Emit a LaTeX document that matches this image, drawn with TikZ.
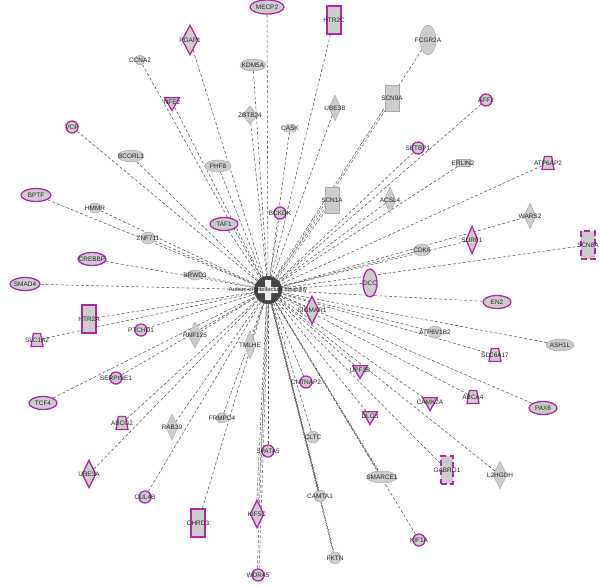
\documentclass[tikz,border=0pt]{standalone}
\usepackage{fontspec}
\setmainfont{Liberation Sans}
\usepackage{tikz}
\usetikzlibrary{shapes.geometric, arrows.meta, positioning, backgrounds, decorations.pathmorphing}
\definecolor{hitpurple}{RGB}{176,40,168}
\definecolor{genegray}{RGB}{204,204,204}
\definecolor{genedraw}{RGB}{170,170,170}
\definecolor{linkgray}{RGB}{95,95,95}

\begin{document}
\begin{tikzpicture}[
    x=0.03cm, y=-0.03cm,
    gene/.style={fill=genegray, draw=genedraw, line width=0.4pt, inner sep=0pt,
        label={[font=\fontsize{5.5}{6}\selectfont, text=black!85]center:#1}},
    hit/.style={draw=hitpurple, line width=1.1pt},
    hitdash/.style={draw=hitpurple, line width=1.1pt, dash pattern=on 5pt off 3pt},
    ell/.style 2 args={ellipse, minimum width=#1*0.03cm, minimum height=#2*0.03cm},
    dia/.style 2 args={diamond, minimum width=#1*0.03cm, minimum height=#2*0.03cm},
    rect/.style 2 args={rectangle, minimum width=#1*0.03cm, minimum height=#2*0.03cm},
    circ/.style={circle, minimum size=12*0.03cm},
    trap/.style={trapezium, trapezium angle=72, trapezium stretches=true, inner sep=1pt,
        minimum width=12*0.03cm, minimum height=13*0.03cm},
    tri/.style={regular polygon, regular polygon sides=3, shape border rotate=180, minimum size=17*0.03cm},
    link/.style={linkgray, line width=0.5pt, dash pattern=on 2.5pt off 1.8pt},
    wavy/.style={decorate, decoration={snake, amplitude=0.5pt, segment length=2.5pt}},
    twin/.style={double=white, double distance=1pt},
    hubring/.style={fill=gray!55!black},
    hubcross/.style={fill=gray!15, draw=none}
]
\useasboundingbox (0,0) rectangle (600,586);

% hub
\node[circle, minimum size=22*0.03cm, inner sep=0pt] (hub) at (268,290) {};

% top
\node[gene=MECP2, ell={34}{14}, hit] (mecp2) at (267,7) {};
\node[gene=HTR2C, rect={14}{28}, hit] (htr2c) at (334,20) {};
\node[gene=FCGR2A, ell={16}{30}] (fcgr2a) at (428,40) {};
\node[gene=PGAP1, dia={16}{30}, hit] (pgap1) at (190,40) {};
\node[gene=CCNA2, circ, minimum size=10*0.03cm] (ccna2) at (140,60) {};
\node[gene=KDM5A, ell={26}{12}] (kdm5a) at (253,65) {};
\node[gene=NFE2, tri, hit] (nfe2) at (172,102) {};
\node[gene=ZBTB24, dia={16}{18}] (zbtb24) at (250,115) {};
\node[gene=CASK, trap, minimum height=8*0.03cm] (cask) at (290,128) {};
\node[gene=UBE3B, dia={12}{26}] (ube3b) at (335,108) {};
\node[gene=SCN9A, rect={14}{26}] (scn9a) at (392,98) {};
\node[gene=SETBP1, circ, hit] (setbp1) at (418,148) {};
\node[gene=AFF2, circ, hit] (aff2) at (486,100) {};
\node[gene=ERLIN2, rect={14}{7}] (erlin2) at (463,163) {};
\node[gene=ATP6AP2, trap, hit] (atp6ap2) at (548,163) {};

% upper left
\node[gene=VCP, circ, hit] (vcp) at (72,127) {};
\node[gene=BCORL1, ell={26}{12}] (bcorl1) at (131,156) {};
\node[gene=PHF8, ell={26}{12}] (phf8) at (218,166) {};
\node[gene=BPTF, ell={30}{13}, hit] (bptf) at (36,195) {};
\node[gene=HMMR, ell={12}{10}] (hmmr) at (95,208) {};
\node[gene=ZNF711, ell={14}{12}] (znf711) at (148,238) {};
\node[gene=TAF1, ell={28}{13}, hit] (taf1) at (224,224) {};
\node[gene=BCKDK, circ, hit] (bckdk) at (280,213) {};
\node[gene=CREBBP, ell={28}{13}, hit] (crebbp) at (92,259) {};
\node[gene=BRWD3, ell={16}{10}] (brwd3) at (195,275) {};
\node[gene=SMAD4, ell={30}{13}, hit] (smad4) at (25,284) {};

% upper right
\node[gene=SCN1A, rect={14}{26}] (scn1a) at (332,200) {};
\node[gene=ACSL4, dia={12}{26}] (acsl4) at (390,200) {};
\node[gene=WARS2, dia={12}{26}] (wars2) at (530,216) {};
\node[gene=SCN8A, rect={14}{28}, hitdash] (scn8a) at (588,245) {};
\node[gene=SURF1, dia={12}{28}, hit] (surf1) at (472,240) {};
\node[gene=CDK6, ell={16}{12}] (cdk6) at (422,250) {};
\node[gene=DCC, ell={14}{28}, hit] (dcc) at (370,283) {};
\node[gene=EN2, ell={28}{13}, hit] (en2) at (497,302) {};

% middle
\node[gene=HTR2A, rect={14}{28}, hit] (htr2a) at (89,319) {};
\node[gene=SLC1A2, trap, hit] (slc1a2) at (37,340) {};
\node[gene=PTCHD1, circ, hit] (ptchd1) at (141,330) {};
\node[gene=RNF125, dia={14}{26}] (rnf125) at (195,335) {};
\node[gene=SIGMAR1, dia={14}{28}, hit] (sigmar1) at (312,310) {};
\node[gene=ATP6V1B2, ell={14}{12}] (atp6v1b2) at (435,332) {};
\node[gene=ASH1L, ell={28}{12}] (ash1l) at (560,345) {};
\node[gene=TMLHE, dia={12}{28}] (tmlhe) at (250,345) {};
\node[gene=SLC6A17, trap, hit] (slc6a17) at (495,355) {};

% lower
\node[gene=SERPINE1, circ, hit] (serpine1) at (116,378) {};
\node[gene=CNTNAP2, circ, hit] (cntnap2) at (306,382) {};
\node[gene=UPF3B, tri, hit] (upf3b) at (360,370) {};
\node[gene=CAMK2A, tri, hit] (camk2a) at (430,402) {};
\node[gene=ABCA4, trap, hit] (abca4) at (473,397) {};
\node[gene=PAX6, ell={28}{13}, hit] (pax6) at (543,408) {};
\node[gene=TCF4, ell={28}{13}, hit] (tcf4) at (43,403) {};
\node[gene=ABCG2, trap, hit] (abcg2) at (122,423) {};
\node[gene=RAB39, dia={12}{26}] (rab39) at (172,427) {};
\node[gene=FRMPD4, ell={12}{10}] (frmpd4) at (222,418) {};
\node[gene=DLG3, tri, hit] (dlg3) at (370,416) {};
\node[gene=CLTC, ell={12}{12}] (cltc) at (313,437) {};
\node[gene=SPATA5, circ, hit] (spata5) at (268,451) {};
\node[gene=GABRG1, rect={12}{28}, hitdash] (gabrg1) at (447,470) {};
\node[gene=L2HGDH, dia={14}{28}] (l2hgdh) at (500,475) {};
\node[gene=UBE3A, dia={14}{28}, hit] (ube3a) at (89,474) {};
\node[gene=CUL4B, circ, hit] (cul4b) at (145,497) {};
\node[gene=CHRD3, rect={14}{28}, hit] (chrd3) at (198,523) {};
\node[gene=KIF5C, dia={14}{28}, hit] (kif5c) at (257,514) {};
\node[gene=SMARCE1, ell={30}{12}] (smarce1) at (382,477) {};
\node[gene=CAMTA1, ell={12}{12}] (camta1) at (320,496) {};
\node[gene=KIF1A, circ, hit] (kif1a) at (419,540) {};
\node[gene=FKTN, ell={12}{12}] (fktn) at (335,558) {};
\node[gene=WDR45, circ, hit] (wdr45) at (258,575) {};

% connectors
\begin{scope}[on background layer]
\foreach \g in {mecp2, htr2c, fcgr2a, pgap1, ccna2, kdm5a, nfe2, zbtb24, cask, ube3b,
    setbp1, aff2, erlin2, atp6ap2, vcp, bcorl1, phf8, bptf, hmmr, znf711, taf1,
    bckdk, crebbp, brwd3, smad4, acsl4, wars2, scn8a, surf1, cdk6, dcc, en2,
    htr2a, slc1a2, ptchd1, rnf125, sigmar1, atp6v1b2, ash1l, tmlhe, slc6a17, serpine1,
    cntnap2, upf3b, camk2a, abca4, pax6, tcf4, abcg2, rab39, frmpd4, dlg3, cltc, spata5,
    gabrg1, l2hgdh, ube3a, cul4b, chrd3, kif1a}
    \draw[link] (\g) -- (hub);
\foreach \g in {scn9a, scn1a, kif5c, wdr45}
    \draw[link, twin] (\g) -- (hub);
\foreach \g in {smarce1, camta1, fktn}
    \draw[linkgray, line width=0.5pt, wavy] (\g) -- (hub);
\end{scope}

% hub shape
\fill[hubring] (hub.center) circle[radius=14];
\fill[hubcross] (hub.center) ++(-3,-10) -- ++(6,0) -- ++(0,7) -- ++(7,0) -- ++(0,6)
    -- ++(-7,0) -- ++(0,7) -- ++(-6,0) -- ++(0,-7) -- ++(-7,0) -- ++(0,-6) -- ++(7,0) -- cycle;
\node[font=\fontsize{5}{6}\selectfont, text=black!85] (hublabel) at (hub.center) {Autism or intellectual disability};

\end{tikzpicture}
\end{document}
